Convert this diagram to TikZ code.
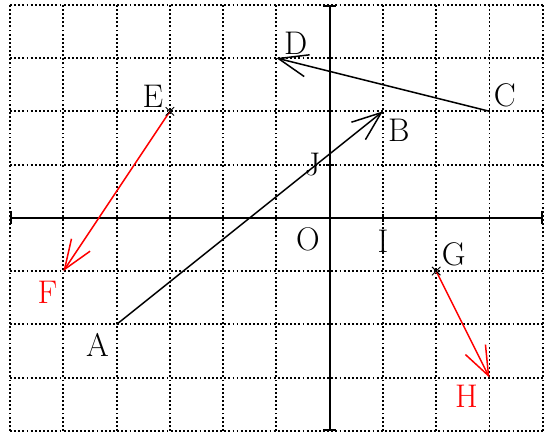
\documentclass[tikz,border=0pt]{standalone}
\usetikzlibrary{arrows.meta,shapes.misc}
\begin{document}
\begin{tikzpicture}[x=1cm,y=1cm,
  gridline/.style={line width=1pt,dash pattern=on 1pt off 1.2pt},
  axis/.style={line width=1pt,{Bar[width=2.4mm]}-{Bar[width=2.4mm]}},
  vec/.style={line width=0.8pt,-{Straight Barb[length=5.5mm,width=4.2mm]}},
  lbl/.style={font=\fontsize{17.5}{21}\selectfont,inner sep=0pt},
  xmark/.style={cross out,draw,line width=0.5pt,minimum size=4pt,inner sep=0pt}]
\useasboundingbox (-6.19,-4.075) rectangle (4.08,4.09);
% grid
\foreach \x in {-6,...,4} \draw[gridline] (\x,-4) -- (\x,4);
\foreach \y in {-4,...,4} \draw[gridline] (-6,\y) -- (4,\y);
% axes
\coordinate (xl) at (-6,0); \coordinate (xr) at (4,0);
\coordinate (yb) at (0,-4); \coordinate (yt) at (0,4);
\draw[axis] (xl) -- (xr);
\draw[axis] (yb) -- (yt);
% ticks
\coordinate (I) at (1,0); \coordinate (J) at (0,1);
\draw[line width=1pt] ([yshift=-2.2pt]I) -- ([yshift=2.2pt]I);
\draw[line width=1pt] ([xshift=-2.2pt]J) -- ([xshift=2.2pt]J);
% points
\coordinate (A) at (-4,-2); \coordinate (B) at (1,2);
\coordinate (C) at (3,2);   \coordinate (D) at (-1,3);
\coordinate (E) at (-3,2);  \coordinate (F) at (-5,-1);
\coordinate (G) at (2,-1);  \coordinate (H) at (3,-3);
% vectors
\draw[vec] (A) -- (B);
\draw[vec] (C) -- (D);
\draw[vec,red] (E) -- (F);
\draw[vec,red] (G) -- (H);
\node[xmark] (Ex) at (E) {};
\node[xmark] (Gx) at (G) {};
% labels
\node[lbl] (lA) at (-4.36,-2.38) {A};
\node[lbl] (lB) at (1.3,1.65) {B};
\node[lbl] (lC) at (3.29,2.3) {C};
\node[lbl] (lD) at (-0.64,3.27) {D};
\node[lbl] (lE) at (-3.32,2.29) {E};
\node[lbl,red] (lF) at (-5.3,-1.39) {F};
\node[lbl] (lG) at (2.33,-0.69) {G};
\node[lbl,red] (lH) at (2.57,-3.36) {H};
\node[lbl] (lI) at (1.0,-0.45) {I};
\node[lbl] (lJ) at (-0.32,1.0) {J};
\node[lbl] (lO) at (-0.41,-0.41) {O};
\end{tikzpicture}
\end{document}
